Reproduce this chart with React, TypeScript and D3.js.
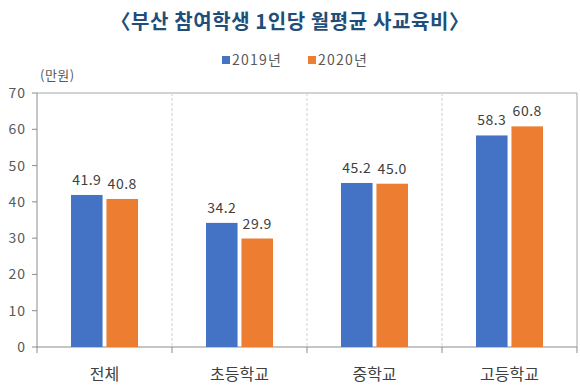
import React from 'react';
import * as d3 from 'd3';

const categories = ['전체', '초등학교', '중학교', '고등학교'];
const seriesNames = ['2019년', '2020년'];
const values2019 = [41.9, 34.2, 45.2, 58.3];
const values2020 = [40.8, 29.9, 45.0, 60.8];
const yTicks = [0, 10, 20, 30, 40, 50, 60, 70];

const colors = ['#4472C4', '#ED7D31'];
const font = "'Noto Sans CJK KR', 'Noto Sans', sans-serif";

const width = 580;
const height = 390;
const left = 37;
const right = 577;
const top = 93;
const bottom = 347;

export default function App() {
  const x = d3.scaleBand().domain(categories).range([left, right]).padding(0);
  const y = d3.scaleLinear().domain([0, 70]).range([bottom, top]);
  const inner = d3.scaleBand().domain(seriesNames).range([0, 67]).paddingInner(0.11);
  const series = [values2019, values2020];
  const bw = x.bandwidth();

  return (
    <svg width={width} height={height} style={{ position: 'absolute', left: 0, top: 0, background: '#fff' }}>
      <text x={290} y={29} textAnchor="middle" fontFamily={font} fontSize={20} fontWeight="bold" letterSpacing={0.6} fill="#1f4e79">
        〈부산 참여학생 1인당 월평균 사교육비〉
      </text>

      {/* legend */}
      {seriesNames.map((s, i) => (
        <g key={s} transform={`translate(${222 + i * 86},61)`}>
          <rect x={0} y={-5} width={8} height={8} fill={colors[i]} />
          <text x={10} y={4} fontFamily={font} fontSize={14} letterSpacing={1.2} fill="#595959">{s}</text>
        </g>
      ))}

      <text x={40} y={80} fontFamily={font} fontSize={13} letterSpacing={0.5} fill="#595959">(만원)</text>

      {/* plot frame */}
      <line x1={left} x2={right} y1={top} y2={top} stroke="#a6a6a6" />
      <line x1={right} x2={right} y1={top} y2={bottom} stroke="#a6a6a6" />
      {categories.slice(1).map(c => (
        <line key={c} x1={x(c)!} x2={x(c)!} y1={top} y2={bottom} stroke="#d0d0d0" strokeDasharray="3,2" />
      ))}

      {/* y axis */}
      <line x1={left} x2={left} y1={top} y2={bottom + 6} stroke="#8c8c8c" />
      {yTicks.map(t => (
        <g key={t}>
          <line x1={left - 5} x2={left} y1={y(t)} y2={y(t)} stroke="#8c8c8c" />
          <text x={26} y={y(t) + 5} textAnchor="end" fontFamily={font} fontSize={14} letterSpacing={1} fill="#595959">{t}</text>
        </g>
      ))}

      {/* x axis */}
      <line x1={left} x2={right} y1={bottom} y2={bottom} stroke="#8c8c8c" />
      {categories.slice(1).concat(['end']).map((c, i) => {
        const xx = c === 'end' ? right : x(c)!;
        return <line key={i} x1={xx} x2={xx} y1={bottom} y2={bottom + 6} stroke="#8c8c8c" />;
      })}

      {categories.map((c, ci) => {
        const g0 = x(c)! + (bw - 67) / 2;
        return (
          <g key={c}>
            {series.map((vals, si) => {
              const bx = g0 + inner(seriesNames[si])!;
              const v = vals[ci];
              return (
                <g key={si}>
                  <rect x={bx} y={y(v)} width={inner.bandwidth()} height={bottom - y(v)} fill={colors[si]} />
                  <text x={bx + inner.bandwidth() / 2} y={y(v) - 10} textAnchor="middle" fontFamily={font} fontSize={14} letterSpacing={0.5} fill="#404040">
                    {v.toFixed(1)}
                  </text>
                </g>
              );
            })}
            <text x={x(c)! + bw / 2} y={380} textAnchor="middle" fontFamily={font} fontSize={16} fill="#404040">{c}</text>
          </g>
        );
      })}
    </svg>
  );
}
